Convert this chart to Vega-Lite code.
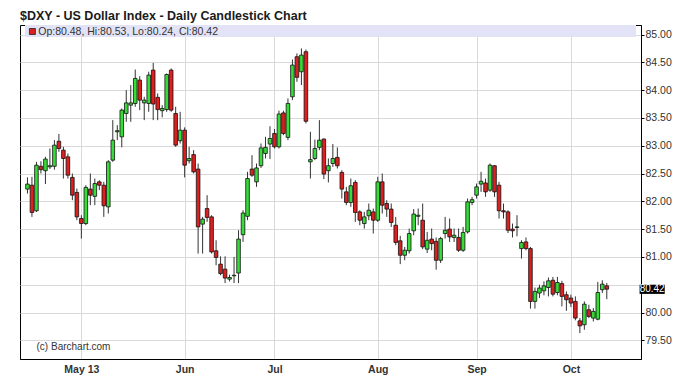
{
  "$schema": "https://vega.github.io/schema/vega-lite/v6.json",
  "width": 621,
  "height": 334,
  "autosize": {"type": "none"},
  "padding": {"left": 20, "top": 25, "right": 47, "bottom": 22},
  "background": "white",
  "title": {
    "text": "$DXY - US Dollar Index - Daily Candlestick Chart",
    "anchor": "start",
    "frame": "group",
    "font": "Liberation Sans",
    "fontSize": 12.5,
    "fontWeight": "bold",
    "color": "#1a1a1a",
    "baseline": "alphabetic",
    "offset": 7.5,
    "dy": 14.5
  },
  "config": {
    "view": {"stroke": "#000", "strokeWidth": 1},
    "axis": {
      "labelFont": "Liberation Sans",
      "labelColor": "#333",
      "gridColor": "#d9d9d9",
      "gridWidth": 1,
      "domainColor": "#000",
      "tickColor": "#000",
      "labelOverlap": false
    }
  },
  "datasets": {
    "ohlc": [
      {"i":0,"o":82.22,"h":82.43,"l":82.14,"c":82.31},
      {"i":1,"o":82.29,"h":82.44,"l":81.72,"c":81.80},
      {"i":2,"o":81.83,"h":82.71,"l":81.81,"c":82.65},
      {"i":3,"o":82.63,"h":82.72,"l":82.50,"c":82.57},
      {"i":4,"o":82.55,"h":82.80,"l":82.31,"c":82.76},
      {"i":5,"o":82.62,"h":82.95,"l":82.58,"c":82.64},
      {"i":6,"o":82.63,"h":83.10,"l":82.57,"c":83.01},
      {"i":7,"o":83.08,"h":83.21,"l":82.89,"c":82.95},
      {"i":8,"o":82.92,"h":82.98,"l":82.41,"c":82.77},
      {"i":9,"o":82.80,"h":82.86,"l":82.41,"c":82.47},
      {"i":10,"o":82.43,"h":82.50,"l":82.02,"c":82.11},
      {"i":11,"o":82.16,"h":82.23,"l":81.66,"c":81.72},
      {"i":12,"o":81.69,"h":81.75,"l":81.33,"c":81.60},
      {"i":13,"o":81.60,"h":82.29,"l":81.57,"c":82.25},
      {"i":14,"o":82.22,"h":82.50,"l":81.93,"c":82.11},
      {"i":15,"o":82.09,"h":82.41,"l":81.93,"c":82.32},
      {"i":16,"o":82.35,"h":82.38,"l":82.20,"c":82.29},
      {"i":17,"o":82.29,"h":82.35,"l":81.72,"c":81.92},
      {"i":18,"o":81.90,"h":82.74,"l":81.78,"c":82.71},
      {"i":19,"o":82.74,"h":83.46,"l":82.71,"c":83.10},
      {"i":20,"o":83.25,"h":83.37,"l":83.10,"c":83.27},
      {"i":21,"o":83.16,"h":83.67,"l":82.97,"c":83.64},
      {"i":22,"o":83.58,"h":84.00,"l":83.43,"c":83.77},
      {"i":23,"o":83.73,"h":84.09,"l":83.43,"c":83.77},
      {"i":24,"o":83.76,"h":84.37,"l":83.70,"c":84.21},
      {"i":25,"o":84.18,"h":84.25,"l":83.64,"c":83.82},
      {"i":26,"o":83.77,"h":83.88,"l":83.46,"c":83.82},
      {"i":27,"o":83.76,"h":84.33,"l":83.61,"c":84.27},
      {"i":28,"o":84.36,"h":84.49,"l":83.46,"c":83.75},
      {"i":29,"o":83.87,"h":83.94,"l":83.46,"c":83.65},
      {"i":30,"o":83.63,"h":83.73,"l":83.51,"c":83.67},
      {"i":31,"o":83.65,"h":84.30,"l":83.61,"c":84.28},
      {"i":32,"o":84.36,"h":84.39,"l":83.61,"c":83.64},
      {"i":33,"o":83.58,"h":83.70,"l":82.98,"c":83.01},
      {"i":34,"o":83.09,"h":83.61,"l":83.04,"c":83.28},
      {"i":35,"o":83.28,"h":83.33,"l":82.43,"c":82.65},
      {"i":36,"o":82.73,"h":82.98,"l":82.68,"c":82.77},
      {"i":37,"o":82.84,"h":82.92,"l":82.50,"c":82.53},
      {"i":38,"o":82.58,"h":82.68,"l":81.06,"c":81.54},
      {"i":39,"o":81.59,"h":81.72,"l":81.06,"c":81.68},
      {"i":40,"o":81.87,"h":82.11,"l":81.63,"c":81.71},
      {"i":41,"o":81.72,"h":81.75,"l":81.06,"c":81.09},
      {"i":42,"o":81.11,"h":81.30,"l":80.85,"c":80.99},
      {"i":43,"o":80.87,"h":81.01,"l":80.67,"c":80.70},
      {"i":44,"o":80.78,"h":81.01,"l":80.53,"c":80.62},
      {"i":45,"o":80.60,"h":80.68,"l":80.56,"c":80.63},
      {"i":46,"o":80.66,"h":81.00,"l":80.53,"c":80.67},
      {"i":47,"o":80.71,"h":81.48,"l":80.53,"c":81.32},
      {"i":48,"o":81.40,"h":81.84,"l":81.27,"c":81.79},
      {"i":49,"o":81.73,"h":82.53,"l":81.66,"c":82.41},
      {"i":50,"o":82.58,"h":82.83,"l":82.44,"c":82.47},
      {"i":51,"o":82.35,"h":82.68,"l":82.26,"c":82.60},
      {"i":52,"o":82.64,"h":83.04,"l":82.60,"c":82.96},
      {"i":53,"o":82.86,"h":83.16,"l":82.77,"c":82.97},
      {"i":54,"o":83.03,"h":83.35,"l":82.76,"c":83.13},
      {"i":55,"o":83.22,"h":83.30,"l":82.95,"c":82.98},
      {"i":56,"o":82.98,"h":83.63,"l":82.95,"c":83.57},
      {"i":57,"o":83.59,"h":83.63,"l":83.19,"c":83.22},
      {"i":58,"o":83.15,"h":83.85,"l":83.10,"c":83.76},
      {"i":59,"o":83.88,"h":84.55,"l":83.82,"c":84.45},
      {"i":60,"o":84.60,"h":84.66,"l":84.15,"c":84.23},
      {"i":61,"o":84.33,"h":84.75,"l":84.09,"c":84.63},
      {"i":62,"o":84.69,"h":84.73,"l":83.40,"c":83.44},
      {"i":63,"o":82.71,"h":83.25,"l":82.41,"c":82.75},
      {"i":64,"o":82.77,"h":83.11,"l":82.74,"c":82.95},
      {"i":65,"o":82.97,"h":83.46,"l":82.92,"c":83.10},
      {"i":66,"o":83.12,"h":83.13,"l":82.40,"c":82.49},
      {"i":67,"o":82.55,"h":82.77,"l":82.34,"c":82.64},
      {"i":68,"o":82.68,"h":83.03,"l":82.62,"c":82.77},
      {"i":69,"o":82.79,"h":82.97,"l":82.59,"c":82.64},
      {"i":70,"o":82.52,"h":82.56,"l":82.05,"c":82.22},
      {"i":71,"o":82.17,"h":82.26,"l":81.93,"c":81.98},
      {"i":72,"o":81.98,"h":82.41,"l":81.90,"c":82.28},
      {"i":73,"o":82.34,"h":82.38,"l":81.63,"c":81.80},
      {"i":74,"o":81.81,"h":81.84,"l":81.57,"c":81.66},
      {"i":75,"o":81.60,"h":81.81,"l":81.51,"c":81.72},
      {"i":76,"o":81.74,"h":81.96,"l":81.66,"c":81.84},
      {"i":77,"o":81.81,"h":81.87,"l":81.42,"c":81.66},
      {"i":78,"o":81.66,"h":82.44,"l":81.63,"c":82.35},
      {"i":79,"o":82.35,"h":82.50,"l":81.78,"c":81.93},
      {"i":80,"o":81.96,"h":82.02,"l":81.72,"c":81.86},
      {"i":81,"o":81.86,"h":81.96,"l":81.54,"c":81.62},
      {"i":82,"o":81.57,"h":81.72,"l":81.21,"c":81.26},
      {"i":83,"o":81.29,"h":81.38,"l":80.87,"c":81.03},
      {"i":84,"o":81.03,"h":81.18,"l":80.94,"c":81.12},
      {"i":85,"o":81.11,"h":81.51,"l":81.06,"c":81.42},
      {"i":86,"o":81.47,"h":81.86,"l":81.39,"c":81.77},
      {"i":87,"o":81.73,"h":81.87,"l":81.57,"c":81.75},
      {"i":88,"o":81.66,"h":81.96,"l":81.14,"c":81.18},
      {"i":89,"o":81.14,"h":81.45,"l":81.07,"c":81.30},
      {"i":90,"o":81.32,"h":81.51,"l":81.12,"c":81.24},
      {"i":91,"o":81.28,"h":81.35,"l":80.77,"c":80.94},
      {"i":92,"o":80.94,"h":81.36,"l":80.89,"c":81.33},
      {"i":93,"o":81.42,"h":81.72,"l":81.33,"c":81.48},
      {"i":94,"o":81.50,"h":81.69,"l":81.27,"c":81.36},
      {"i":95,"o":81.35,"h":81.51,"l":81.27,"c":81.39},
      {"i":96,"o":81.35,"h":81.51,"l":81.09,"c":81.12},
      {"i":97,"o":81.12,"h":81.54,"l":81.09,"c":81.44},
      {"i":98,"o":81.45,"h":82.05,"l":81.42,"c":81.99},
      {"i":99,"o":81.98,"h":82.08,"l":81.93,"c":82.03},
      {"i":100,"o":82.11,"h":82.32,"l":82.05,"c":82.26},
      {"i":101,"o":82.31,"h":82.53,"l":82.17,"c":82.36},
      {"i":102,"o":82.33,"h":82.41,"l":82.08,"c":82.17},
      {"i":103,"o":82.20,"h":82.68,"l":82.17,"c":82.65},
      {"i":104,"o":82.64,"h":82.65,"l":82.08,"c":82.17},
      {"i":105,"o":82.29,"h":82.35,"l":81.69,"c":81.83},
      {"i":106,"o":81.83,"h":81.96,"l":81.69,"c":81.81},
      {"i":107,"o":81.81,"h":81.84,"l":81.43,"c":81.48},
      {"i":108,"o":81.50,"h":81.60,"l":81.35,"c":81.47},
      {"i":109,"o":81.53,"h":81.75,"l":81.37,"c":81.54},
      {"i":110,"o":81.15,"h":81.30,"l":80.97,"c":81.26},
      {"i":111,"o":81.27,"h":81.35,"l":81.12,"c":81.15},
      {"i":112,"o":81.15,"h":81.18,"l":80.07,"c":80.20},
      {"i":113,"o":80.20,"h":80.45,"l":80.07,"c":80.38},
      {"i":114,"o":80.35,"h":80.50,"l":80.26,"c":80.44},
      {"i":115,"o":80.39,"h":80.56,"l":80.31,"c":80.48},
      {"i":116,"o":80.45,"h":80.63,"l":80.29,"c":80.57},
      {"i":117,"o":80.58,"h":80.64,"l":80.29,"c":80.33},
      {"i":118,"o":80.36,"h":80.64,"l":80.31,"c":80.54},
      {"i":119,"o":80.52,"h":80.57,"l":80.11,"c":80.29},
      {"i":120,"o":80.32,"h":80.38,"l":80.03,"c":80.23},
      {"i":121,"o":80.26,"h":80.32,"l":80.10,"c":80.17},
      {"i":122,"o":80.20,"h":80.29,"l":79.86,"c":79.90},
      {"i":123,"o":79.85,"h":79.90,"l":79.63,"c":79.76},
      {"i":124,"o":79.78,"h":80.20,"l":79.69,"c":80.15},
      {"i":125,"o":80.05,"h":80.14,"l":79.90,"c":79.93},
      {"i":126,"o":79.90,"h":80.08,"l":79.84,"c":80.02},
      {"i":127,"o":79.88,"h":80.55,"l":79.86,"c":80.36},
      {"i":128,"o":80.41,"h":80.58,"l":80.35,"c":80.51},
      {"i":129,"o":80.48,"h":80.53,"l":80.24,"c":80.42}
    ],
    "last": [{"close": 80.42}],
    "info": [{"label": "Op:80.48, Hi:80.53, Lo:80.24, Cl:80.42", "note": "(c) Barchart.com"}]
  },
  "layer": [
    {
      "data": {"name": "info"},
      "mark": {"type": "rect", "fill": "#e3e3f7"},
      "encoding": {
        "x": {"datum": -0.548, "type": "quantitative"},
        "x2": {"datum": 135.5},
        "y": {"datum": 84.955, "type": "quantitative"},
        "y2": {"datum": 85.171}
      }
    },
    {
      "data": {"name": "ohlc"},
      "mark": {"type": "rule", "color": "#333", "strokeWidth": 1},
      "encoding": {
        "x": {
          "field": "i", "type": "quantitative", "title": null,
          "scale": {"domain": [-0.548, 135.5], "nice": false, "zero": false},
          "axis": {
            "values": [12, 35, 55, 78, 100, 121],
            "tickCount": 20,
            "labelExpr": "datum.value == 12 ? 'May 13' : datum.value == 35 ? 'Jun' : datum.value == 55 ? 'Jul' : datum.value == 78 ? 'Aug' : datum.value == 100 ? 'Sep' : 'Oct'",
            "grid": true,
            "ticks": false,
            "tickSize": 0,
            "labelPadding": 5,
            "labelFontWeight": "bold",
            "labelFontSize": 10.5,
            "labelFlush": false,
            "labelOverlap": false,
            "domain": true
          }
        },
        "y": {
          "field": "l", "type": "quantitative", "title": null,
          "scale": {"domain": [79.164, 85.171], "nice": false, "zero": false},
          "axis": {
            "orient": "right",
            "values": [79.5, 80, 80.5, 81, 81.5, 82, 82.5, 83, 83.5, 84, 84.5, 85],
            "tickCount": 30,
            "labelExpr": "datum.value == 80.5 ? '' : format(datum.value, '.2f')",
            "grid": true,
            "tickSize": 3,
            "labelPadding": 1,
            "labelFontSize": 10.5,
            "labelFlush": false,
            "labelOverlap": false,
            "labelBound": false,
            "domain": true
          }
        },
        "y2": {"field": "h"}
      }
    },
    {
      "data": {"name": "ohlc"},
      "mark": {"type": "bar", "size": 3.6, "stroke": "#111", "strokeWidth": 0.8},
      "encoding": {
        "x": {"field": "i", "type": "quantitative", "title": null},
        "y": {"field": "o", "type": "quantitative", "title": null},
        "y2": {"field": "c"},
        "fill": {
          "condition": {"test": "datum.c >= datum.o", "value": "#38dc38"},
          "value": "#dc1f1f"
        }
      }
    },
    {
      "data": {"name": "info"},
      "mark": {"type": "point", "shape": "square", "size": 36, "filled": true, "fill": "#dc1f1f", "stroke": "#222", "strokeWidth": 0.8, "opacity": 1},
      "encoding": {
        "x": {"datum": 1.1, "type": "quantitative"},
        "y": {"datum": 85.054, "type": "quantitative"}
      }
    },
    {
      "data": {"name": "info"},
      "mark": {"type": "text", "align": "left", "baseline": "middle", "font": "Liberation Sans", "fontSize": 10.5, "color": "#333"},
      "encoding": {
        "x": {"datum": 2.4, "type": "quantitative"},
        "y": {"datum": 85.054, "type": "quantitative"},
        "text": {"field": "label"}
      }
    },
    {
      "data": {"name": "info"},
      "mark": {"type": "text", "align": "left", "baseline": "middle", "font": "Liberation Sans", "fontSize": 10, "color": "#333"},
      "encoding": {
        "x": {"datum": 2.02, "type": "quantitative"},
        "y": {"datum": 79.385, "type": "quantitative"},
        "text": {"field": "note"}
      }
    },
    {
      "data": {"name": "last"},
      "mark": {"type": "rect", "fill": "#000", "clip": false},
      "encoding": {
        "x": {"datum": 136.3, "type": "quantitative"},
        "x2": {"datum": 141.9},
        "y": {"datum": 80.5, "type": "quantitative"},
        "y2": {"datum": 80.335}
      }
    },
    {
      "data": {"name": "last"},
      "mark": {"type": "text", "align": "center", "baseline": "middle", "font": "Liberation Sans", "fontSize": 10, "color": "#fff", "clip": false},
      "encoding": {
        "x": {"datum": 139.1, "type": "quantitative"},
        "y": {"field": "close", "type": "quantitative", "title": null},
        "text": {"field": "close", "type": "quantitative", "format": ".2f"}
      }
    }
  ]
}
